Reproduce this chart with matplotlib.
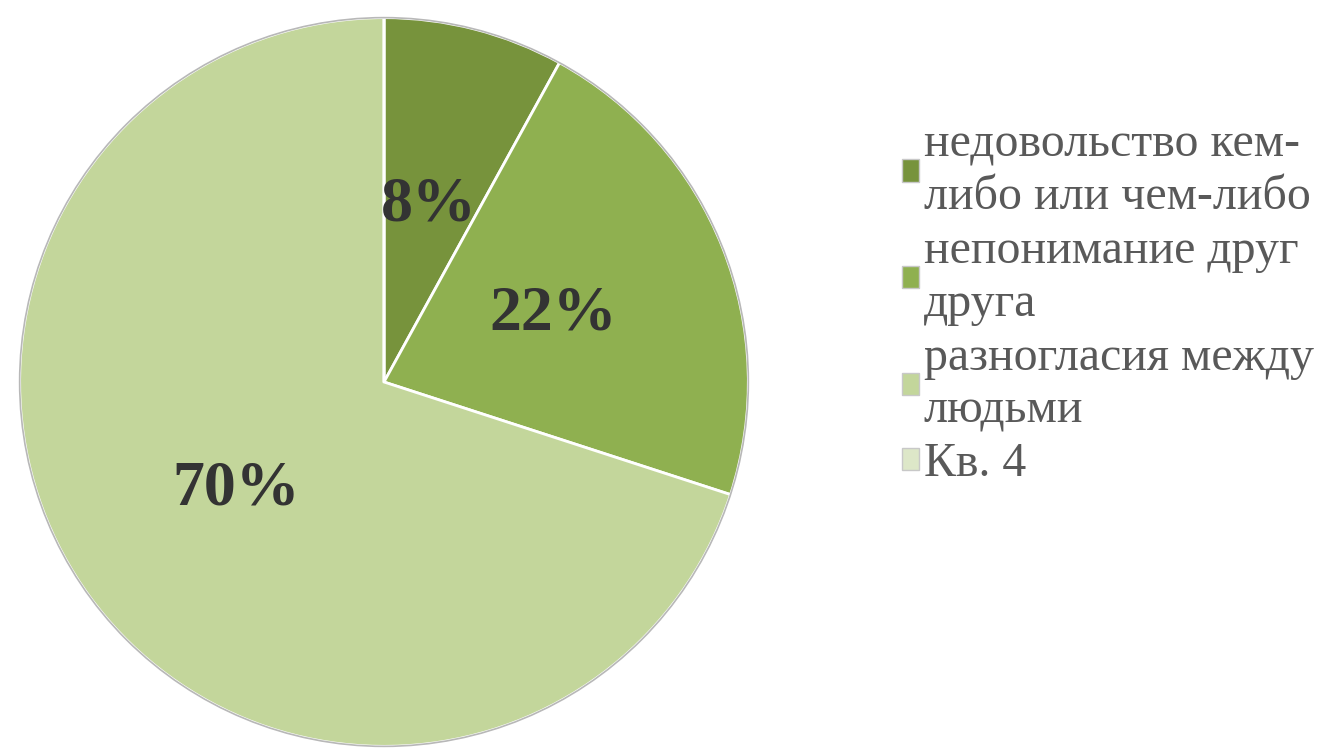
import matplotlib.pyplot as plt
from matplotlib.patches import Patch

labels = ["недовольство кем-\nлибо или чем-либо", "непонимание друг\nдруга",
          "разногласия между\nлюдьми", "Кв. 4"]
values = [8, 22, 70, 0]
colors = ["#77933c", "#8fb050", "#c3d69b", "#dde7c8"]

plt.rcParams["font.family"] = ["Liberation Serif", "DejaVu Serif"]

fig = plt.figure(figsize=(13.24, 7.53), dpi=100)
W, H = 1324, 753
cx, cy, r = 384, 382, 368
ax = fig.add_axes([(cx - r) / W, (H - cy - r) / H, 2 * r / W, 2 * r / H])

wedges, texts, autotexts = ax.pie(
    values, colors=colors, startangle=90, counterclock=False, radius=1,
    autopct=lambda p: f"{p:.0f}%" if p > 0 else "", pctdistance=0.5,
    wedgeprops=dict(edgecolor="white", linewidth=2),
    textprops=dict(fontsize=46, fontweight="bold", color="#333333"))
ax.add_patch(plt.Circle((0, 0), 1.0, fill=False, edgecolor="#b8b8b8", linewidth=1.2))
ax.set_xlim(-1.01, 1.01)
ax.set_ylim(-1.01, 1.01)
ax.set_aspect("equal")
ax.axis("off")

handles = [Patch(facecolor=c, edgecolor="#c8c8c8", linewidth=1) for c in colors]
leg = fig.legend(handles, labels, loc="upper left", bbox_to_anchor=(902 / W, 1 - 122 / H),
                 frameon=False, fontsize=34.5, handlelength=0.35, handleheight=0.35,
                 handletextpad=0.1, labelspacing=0.2, borderpad=0, borderaxespad=0,
                 labelcolor="#595959")
for t in leg.get_texts():
    t.set_linespacing(1.27)

fig.savefig("out.png", dpi=100)
